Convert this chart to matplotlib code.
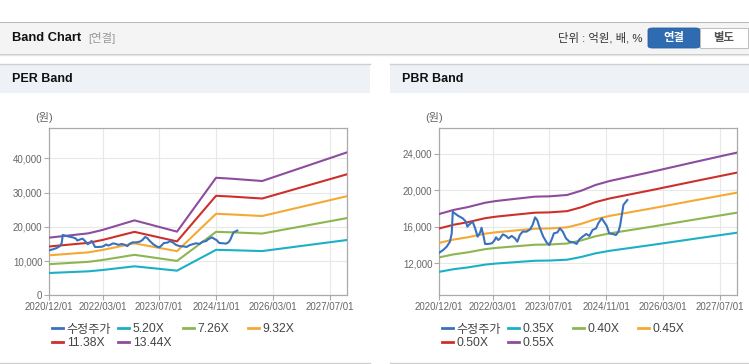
import matplotlib
matplotlib.use("Agg")
import matplotlib.pyplot as plt
from matplotlib.patches import Rectangle, FancyBboxPatch
from matplotlib.lines import Line2D
from matplotlib.ticker import FuncFormatter

plt.rcParams['font.family'] = ['Liberation Sans', 'Noto Sans CJK KR']

# x는 2020/12/01 기준 경과 개월 수
tick_m = [0, 15, 31, 47, 63, 79]
tick_labels = ['2020/12/01', '2022/03/01', '2023/07/01', '2024/11/01', '2026/03/01', '2027/07/01']

# 수정주가
price_m = [0, 1.1, 2.1, 3.0, 3.5, 3.8, 4.1, 5.4, 6.6, 7.5, 7.9, 8.6, 9.4, 10.1, 10.8, 11.5,
           11.9, 12.4, 12.9, 13.8, 14.8, 15.5, 16.0, 16.6, 17.1, 17.9, 18.8, 19.5, 20.4, 21.3,
           22.0, 22.7, 23.5, 24.6, 25.6, 26.3, 27.0, 27.6, 28.2, 29.3, 30.3, 31.0, 31.7, 32.3,
           33.3, 34.0, 34.8, 35.7, 36.7, 37.8, 38.7, 39.5, 40.4, 41.4, 42.3, 43.2, 44.2, 44.8,
           45.8, 46.4, 47.2, 47.9, 48.9, 49.8, 50.5, 51.0, 51.9, 53.0]
price_v = [13170, 13460, 13830, 14370, 15280, 17650, 17540, 17180, 16930, 16560, 16010, 16300,
           16560, 15830, 14920, 15360, 15900, 15100, 14120, 14120, 14190, 14480, 14850, 14550,
           14700, 15170, 15000, 14740, 15000, 14740, 14370, 15100, 15470, 15470, 15720, 16200,
           17030, 16740, 16010, 14920, 14260, 14010, 14630, 15280, 15390, 15830, 15470, 14740,
           14370, 14300, 14120, 14630, 14920, 15210, 15000, 15650, 15830, 16380, 16930, 16560,
           16090, 15280, 15210, 15100, 15470, 16200, 18390, 18930]

# PER 밴드 (EPS)
eps_m = [0, 11, 15, 24, 36, 47, 51, 60, 84]
eps_v = [1254, 1347, 1421, 1629, 1384, 2555, 2537, 2485, 3110]
per_mult = [5.20, 7.26, 9.32, 11.38, 13.44]

# PBR 밴드 (BPS)
bps_m = [0, 4, 8, 13, 16, 21, 27, 31, 36, 40, 44, 48, 60, 72, 84]
bps_v = [31640, 32440, 33000, 33890, 34220, 34620, 35090, 35150, 35420, 36270, 37400,
         38200, 40050, 41980, 43870]
pbr_mult = [0.35, 0.40, 0.45, 0.50, 0.55]

price_color = '#3a71be'
band_colors = ['#1cb0c6', '#8db650', '#f5a935', '#cd302b', '#8e4c9d']

W, H = 749, 364
fig = plt.figure(figsize=(W / 100, H / 100), dpi=100)


def fx(x):
    return x / W


def fy(y):
    return 1 - y / H


def rect(x0, y0, x1, y1, **kw):
    fig.add_artist(Rectangle((fx(x0), fy(y1)), (x1 - x0) / W, (y1 - y0) / H,
                             transform=fig.transFigure, lw=0, **kw))


def hline(x0, x1, y, color, lw=0.75):
    fig.add_artist(Line2D([fx(x0), fx(x1)], [fy(y), fy(y)], transform=fig.transFigure,
                          color=color, lw=lw))


# 상단 헤더
rect(0, 22, W, 53, color='#f4f4f4')
hline(0, W, 22, '#b9b9b9')
hline(0, W, 53.5, '#c8c8c8', lw=1.0)
hline(0, W, 55, '#e6e6e6', lw=1.0)
fig.text(fx(12), fy(38), 'Band Chart', fontsize=9.3, fontweight='bold', color='#111111', va='center')
fig.text(fx(88), fy(38), '[연결]', fontsize=8.2, color='#999999', va='center')
fig.text(fx(642), fy(38), '단위 : 억원, 배, %', fontsize=8.2, color='#333333', va='center', ha='right')
fig.add_artist(FancyBboxPatch((fx(648), fy(48)), 52 / W, 20 / H, boxstyle='round,pad=0,rounding_size=0.006',
                              transform=fig.transFigure, fc='#2f6bb0', ec='#2a5f9e', lw=0.6))
rect(700, 28, 748, 48, color='white')
fig.add_artist(Rectangle((fx(700), fy(48)), 48 / W, 20 / H, transform=fig.transFigure,
                         fill=False, ec='#c0c0c0', lw=0.75))
fig.text(fx(674), fy(38), '연결', fontsize=8.2, fontweight='bold', color='white', va='center', ha='center')
fig.text(fx(724), fy(38), '별도', fontsize=8.2, fontweight='bold', color='#555555', va='center', ha='center')


def panel(x0, x1, title):
    rect(x0, 64, x1, 93, color='#eef1f6')
    hline(x0, x1, 64, '#cfcfcf', lw=1.0)
    hline(x0, x1, 362.5, '#d0d0d0', lw=1.0)
    fig.text(fx(x0 + 12), fy(79.5), title, fontsize=9, fontweight='bold', color='#111111', va='center')


panel(0, 370, 'PER Band')
panel(390, W, 'PBR Band')


def band_chart(left, base_m, base_v, mults, ylim, yticks, names):
    ax = fig.add_axes([fx(left), fy(295.3), 298 / W, 167 / H])
    ax.plot(price_m, price_v, color=price_color, lw=1.5, zorder=5)
    for m, c in zip(mults, band_colors):
        ax.plot(base_m, [v * m for v in base_v], color=c, lw=1.5, zorder=4)
    ax.set_xlim(0, 84)
    ax.set_ylim(*ylim)
    ax.set_xticks(tick_m)
    ax.set_xticklabels(tick_labels)
    ax.set_yticks(yticks)
    ax.yaxis.set_major_formatter(FuncFormatter(lambda v, p: f'{int(v):,}'))
    ax.grid(True, color='#e8e8e8', lw=0.8)
    ax.set_axisbelow(True)
    for s in ax.spines.values():
        s.set_color('#aaaaaa')
        s.set_linewidth(0.9)
    ax.tick_params(labelsize=7, labelcolor='#666666', color='#aaaaaa', length=3.5, width=0.8, pad=1.5)
    fig.text(fx(left - 5), fy(118), '(원)', fontsize=8, color='#666666', ha='center', va='center')

    handles = [Line2D([], [], color=price_color, lw=2)] + [Line2D([], [], color=c, lw=2) for c in band_colors]
    labels = ['수정주가'] + names
    cols = [[0, 4], [1, 5], [2], [3]]
    for off, idx in zip([3, 69, 134, 199], cols):
        fig.legend([handles[i] for i in idx], [labels[i] for i in idx], loc='upper left',
                   bbox_to_anchor=(fx(left + off), fy(323.5)), frameon=False, fontsize=8.7,
                   handlelength=0.9, handletextpad=0.3, borderpad=0, borderaxespad=0,
                   labelspacing=0.15, labelcolor='#444444')
    return ax


band_chart(49.3, eps_m, eps_v, per_mult, (0, 48800), [0, 10000, 20000, 30000, 40000],
           [f'{m:.2f}X' for m in per_mult])
band_chart(439.3, bps_m, bps_v, pbr_mult, (8500, 26780), [12000, 16000, 20000, 24000],
           [f'{m:.2f}X' for m in pbr_mult])

fig.savefig('out.png', dpi=100)
